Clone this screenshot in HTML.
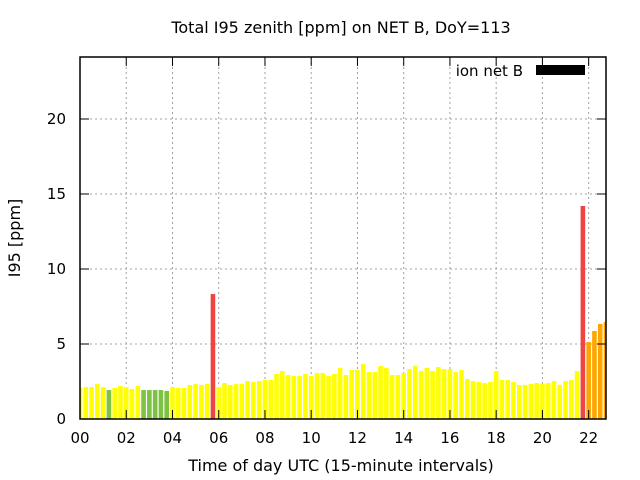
<!DOCTYPE html>
<html><head><meta charset="utf-8"><style>
body{margin:0;background:#fff}
svg{display:block;font-family:"DejaVu Sans","Liberation Sans",sans-serif}
</style></head><body>
<svg id="chart" width="640" height="480">
<g id="grid"></g>
<g id="bars"></g>
<g id="axes"></g>
<text x="341" y="33" font-size="16" text-anchor="middle">Total I95 zenith [ppm] on NET B, DoY=113</text>
<text x="341" y="471" font-size="16" text-anchor="middle">Time of day UTC (15-minute intervals)</text>
<text transform="translate(20,238) rotate(-90)" font-size="16" text-anchor="middle">I95 [ppm]</text>
<g>
<text x="523" y="76" font-size="15" text-anchor="end">ion net B</text>
<rect x="536" y="65" width="49" height="10" fill="#000"></rect>
</g>
</svg>
<script>
const values = [2.09,2.13,2.13,2.33,2.13,1.93,2.07,2.2,2.13,2.0,2.2,1.93,1.93,1.93,1.93,1.87,2.13,2.07,2.07,2.27,2.33,2.27,2.33,8.33,
2.13,2.4,2.27,2.33,2.33,2.53,2.47,2.53,2.6,2.6,3.0,3.2,2.93,2.87,2.87,3.0,2.87,3.07,3.07,2.87,3.0,3.4,2.93,3.27,3.27,3.67,3.13,3.13,3.53,3.4,2.93,2.93,3.07,3.33,3.53,3.2,3.4,
3.2,3.47,3.33,3.33,3.13,3.27,2.67,2.53,2.47,2.4,2.47,3.2,2.6,2.6,2.47,2.27,2.27,2.33,2.4,2.33,2.4,2.53,2.27,2.53,2.6,3.2,14.2,5.13,5.87,6.33,6.47];
const yTicks = [0,5,10,15,20];
const xTickLabels = ["00","02","04","06","08","10","12","14","16","18","20","22"];
const xTickHours = [0,2,4,6,8,10,12,14,16,18,20,22];

const L=80,R=606,T=57,B=419;
const pxPerHour=(R-L)/22.75;
const xs=h=>L+h*pxPerHour;
const ys=v=>B-v*15;
const NS="http://www.w3.org/2000/svg";
function mk(tag,attrs,parent){const e=document.createElementNS(NS,tag);for(const k in attrs)e.setAttribute(k,attrs[k]);parent.appendChild(e);return e;}
const grid=document.getElementById('grid'),barsG=document.getElementById('bars'),axes=document.getElementById('axes');
const defs=mk('defs',{},document.getElementById('chart'));
const cp=mk('clipPath',{id:'clip'},defs);mk('rect',{x:L,y:T,width:R-L,height:B-T},cp);
barsG.setAttribute('clip-path','url(#clip)');

yTicks.forEach(v=>{
  const y=ys(v);
  if(v>0){const g=mk('line',{x1:L,x2:R,y1:y,y2:y,stroke:'#a0a0a0','stroke-dasharray':'2,3'},grid);
  
  }
  const t=mk('text',{x:66,y:y+5,'font-size':15,'text-anchor':'end'},axes);t.textContent=v;
  
  
  mk('line',{x1:L,x2:L+9,y1:y,y2:y,stroke:'#000'},axes);
  mk('line',{x1:R,x2:R-9,y1:y,y2:y,stroke:'#000'},axes);
});
xTickHours.forEach((h,i)=>{
  const x=xs(h);
  if(h>0){const g=mk('line',{x1:x,x2:x,y1:T,y2:B,stroke:'#a0a0a0','stroke-dasharray':'2,3'},grid);
  
  }
  const t=mk('text',{x:x,y:443,'font-size':15,'text-anchor':'middle'},axes);t.textContent=xTickLabels[i];
  
  
  mk('line',{x1:x,x2:x,y1:B,y2:B-9,stroke:'#000'},axes);
  mk('line',{x1:x,x2:x,y1:T,y2:T+9,stroke:'#000'},axes);
});
const fr=mk('rect',{x:L,y:T,width:R-L,height:B-T,fill:'none',stroke:'#000','stroke-width':1.5},axes);



const step=pxPerHour/4,bw=4.6;
values.forEach((v,i)=>{
  const c=v<2?'#7dc242':v<5?'#ffff00':v<8?'#ffa500':'#ee4444';
  const cx=xs(i*0.25);
  const r=mk('rect',{x:cx-bw/2,y:ys(v),width:bw,height:B-ys(v),fill:c},barsG);
  
  
});
</script>
</body></html>
